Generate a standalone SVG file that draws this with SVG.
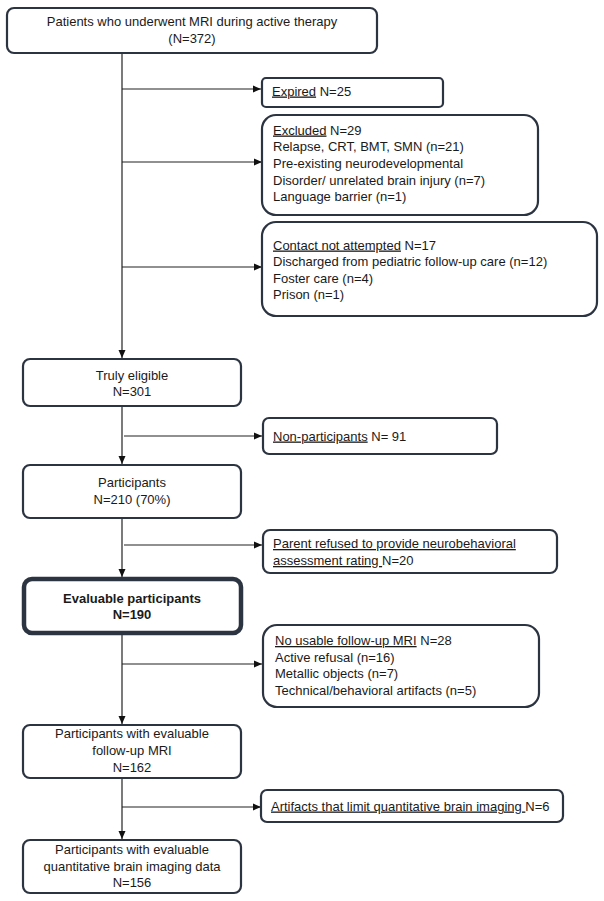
<svg xmlns="http://www.w3.org/2000/svg" width="604" height="901" viewBox="0 0 604 901">
<defs>
<marker id="ah" viewBox="0 0 8 8" refX="8" refY="4" markerWidth="8" markerHeight="8" markerUnits="userSpaceOnUse" orient="auto">
<path d="M0,0.5 L8,4 L0,7.5 Z" fill="#111"/>
</marker>
<style>
.b{fill:#fff;stroke:#2c3441;stroke-width:2.2}
.bb{fill:#fff;stroke:#2c3441;stroke-width:4.5}
.t{font-family:"Liberation Sans",Arial,sans-serif;font-size:13px;fill:#1a1a1a}
.c{text-anchor:middle}
.bold{font-weight:bold}
.u{text-decoration:underline}
.ln{stroke:#222;stroke-width:1.2;fill:none}
</style>
</defs>
<rect width="604" height="901" fill="#fff"/>
<g id="connectors">
<line class="ln" x1="122" y1="53" x2="122" y2="358" marker-end="url(#ah)"/>
<line class="ln" x1="122" y1="406" x2="122" y2="464" marker-end="url(#ah)"/>
<line class="ln" x1="122" y1="518" x2="122" y2="577" marker-end="url(#ah)"/>
<line class="ln" x1="122" y1="635" x2="122" y2="724" marker-end="url(#ah)"/>
<line class="ln" x1="122" y1="778" x2="122" y2="839" marker-end="url(#ah)"/>
<line class="ln" x1="122" y1="89" x2="261" y2="89" marker-end="url(#ah)"/>
<line class="ln" x1="122" y1="162" x2="262" y2="162" marker-end="url(#ah)"/>
<line class="ln" x1="122" y1="267" x2="262" y2="267" marker-end="url(#ah)"/>
<line class="ln" x1="124" y1="436" x2="262" y2="436" marker-end="url(#ah)"/>
<line class="ln" x1="124" y1="545" x2="262" y2="545" marker-end="url(#ah)"/>
<line class="ln" x1="122" y1="664" x2="262" y2="664" marker-end="url(#ah)"/>
<line class="ln" x1="122" y1="807" x2="261" y2="807" marker-end="url(#ah)"/>
</g>
<g id="n-start">
<rect class="b" x="7" y="8" width="370" height="45" rx="7"/>
<text class="t c" x="192" y="26">Patients who underwent MRI during active therapy</text>
<text class="t c" x="192" y="43">(N=372)</text>
</g>
<g id="n-expired">
<rect class="b" x="262" y="78" width="181" height="29" rx="4"/>
<text class="t" x="272" y="95.5"><tspan class="u">Expired</tspan> N=25</text>
</g>
<g id="n-excluded">
<rect class="b" x="262" y="115" width="276" height="100" rx="14"/>
<text class="t" x="273" y="134.5"><tspan class="u">Excluded</tspan> N=29</text>
<text class="t" x="273" y="151">Relapse, CRT, BMT, SMN  (n=21)</text>
<text class="t" x="273" y="168">Pre-existing neurodevelopmental</text>
<text class="t" x="273" y="184.5">Disorder/ unrelated brain injury (n=7)</text>
<text class="t" x="273" y="201">Language barrier (n=1)</text>
</g>
<g id="n-contact">
<rect class="b" x="262" y="222" width="335" height="94" rx="14"/>
<text class="t" x="273" y="249.5"><tspan class="u">Contact not attempted</tspan> N=17</text>
<text class="t" x="273" y="266">Discharged from pediatric follow-up care (n=12)</text>
<text class="t" x="273" y="282.5">Foster care (n=4)</text>
<text class="t" x="273" y="298.5">Prison (n=1)</text>
</g>
<g id="n-eligible">
<rect class="b" x="23" y="359" width="218" height="47" rx="7"/>
<text class="t c" x="132" y="379.5">Truly eligible</text>
<text class="t c" x="132" y="396">N=301</text>
</g>
<g id="n-nonpart">
<rect class="b" x="263" y="418" width="234" height="36" rx="6"/>
<text class="t" x="273" y="440.5"><tspan class="u">Non-participants</tspan> N= 91</text>
</g>
<g id="n-participants">
<rect class="b" x="23" y="465" width="218" height="53" rx="7"/>
<text class="t c" x="132" y="487">Participants</text>
<text class="t c" x="132" y="504">N=210 (70%)</text>
</g>
<g id="n-parent">
<rect class="b" x="263" y="530" width="294" height="43" rx="7"/>
<text class="t" x="273" y="548"><tspan class="u">Parent refused to provide neurobehavioral</tspan></text>
<text class="t" x="273" y="565"><tspan class="u">assessment rating </tspan>N=20</text>
</g>
<g id="n-evaluable">
<rect class="bb" x="24" y="579" width="217" height="54" rx="8"/>
<text class="t c bold" x="132" y="603">Evaluable participants</text>
<text class="t c bold" x="132" y="619">N=190</text>
</g>
<g id="n-nousable">
<rect class="b" x="263" y="625" width="276" height="82" rx="14"/>
<text class="t" x="275" y="645"><tspan class="u">No usable follow-up MRI</tspan> N=28</text>
<text class="t" x="275" y="662">Active refusal (n=16)</text>
<text class="t" x="275" y="678">Metallic objects (n=7)</text>
<text class="t" x="275" y="695">Technical/behavioral artifacts (n=5)</text>
</g>
<g id="n-followup">
<rect class="b" x="23" y="725" width="218" height="53" rx="7"/>
<text class="t c" x="132" y="738">Participants with evaluable</text>
<text class="t c" x="132" y="755">follow-up MRI</text>
<text class="t c" x="132" y="772">N=162</text>
</g>
<g id="n-artifacts">
<rect class="b" x="261" y="790" width="302" height="32" rx="6"/>
<text class="t" x="271" y="810.5"><tspan class="u">Artifacts that limit quantitative brain imaging </tspan>N=6</text>
</g>
<g id="n-final">
<rect class="b" x="23" y="840" width="218" height="53" rx="7"/>
<text class="t c" x="132" y="854">Participants with evaluable</text>
<text class="t c" x="132" y="871">quantitative brain imaging data</text>
<text class="t c" x="132" y="887">N=156</text>
</g>
</svg>
